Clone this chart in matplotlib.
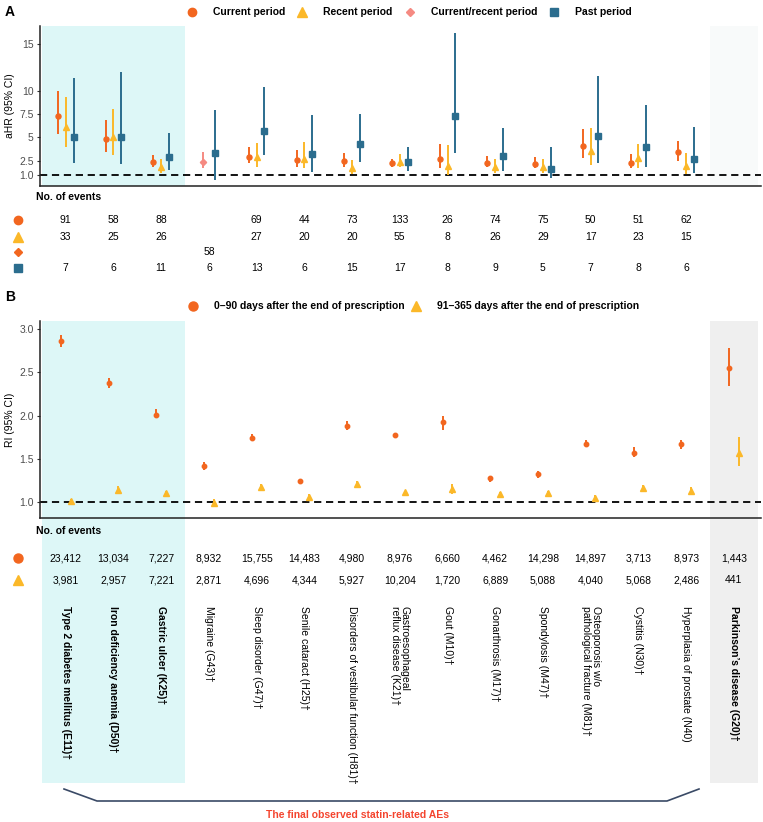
import numpy as np
import matplotlib.pyplot as plt

plt.rcParams['font.family'] = ['Liberation Sans', 'DejaVu Sans']

W, H = 763, 822
nan = np.nan

# outcomes (x categories)
labels = ["Type 2 diabetes mellitus (E11)\u2020", "Iron deficiency anemia (D50)\u2020",
          "Gastric ulcer (K25)\u2020", "Migraine (G43)\u2020", "Sleep disorder (G47)\u2020",
          "Senile cataract (H25)\u2020", "Disorders of vestibular function (H81)\u2020",
          "Gastroesophageal\nreflux disease (K21)\u2020", "Gout (M10)\u2020",
          "Gonarthrosis (M17)\u2020", "Spondylosis (M47)\u2020",
          "Osteoporosis w/o\npathological fracture (M81)\u2020", "Cystitis (N30)\u2020",
          "Hyperplasia of prostate (N40)", "Parkinson\u2019s disease (G20)\u2020"]
bold_labels = [True, True, True] + [False] * 11 + [True]

# panel A - aHR (95% CI)
a_cur = [7.34, 4.83, 2.40, nan, 2.93, 2.55, 2.50, 2.22, 2.65, 2.29, 2.18, 4.08, 2.29, 3.41, nan]
a_cur_lo = [5.34, 3.40, 1.86, nan, 2.22, 1.79, 1.86, 1.79, 1.69, 1.79, 1.69, 2.83, 1.69, 2.50, nan]
a_cur_hi = [9.99, 6.88, 3.12, nan, 4.00, 3.65, 3.30, 2.69, 4.30, 3.04, 2.87, 5.88, 3.19, 4.65, nan]
a_rec = [6.12, 5.08, 1.79, nan, 2.87, 2.69, 1.69, 2.40, 1.93, 1.79, 1.86, 3.55, 2.76, 1.97, nan]
a_rec_lo = [4.00, 3.12, 1.15, nan, 1.86, 1.69, 1.07, 1.79, 0.97, 1.15, 1.21, 2.04, 1.69, 1.07, nan]
a_rec_hi = [9.31, 8.06, 2.65, nan, 4.37, 4.48, 2.58, 3.22, 4.19, 2.69, 2.69, 5.98, 4.30, 3.36, nan]
a_cr = [nan, nan, nan, 2.40] + [nan] * 11
a_cr_lo = [nan, nan, nan, 1.69] + [nan] * 11
a_cr_hi = [nan, nan, nan, 3.41] + [nan] * 11
a_past = [5.08, 5.08, 2.87, 3.36, 5.69, 3.19, 4.27, 2.40, 7.30, 3.01, 1.58, 5.16, 4.00, 2.65, nan]
a_past_lo = [2.29, 2.12, 1.50, 0.43, 3.12, 1.32, 2.40, 1.43, 3.30, 1.43, 0.61, 2.22, 1.86, 1.15, nan]
a_past_hi = [11.35, 12.06, 5.45, 7.95, 10.39, 7.41, 7.49, 3.98, 16.19, 5.98, 3.94, 11.60, 8.49, 6.16, nan]

n_cur = [91, 58, 88, None, 69, 44, 73, 133, 26, 74, 75, 50, 51, 62, None]
n_rec = [33, 25, 26, None, 27, 20, 20, 55, 8, 26, 29, 17, 23, 15, None]
n_cr = [None, None, None, 58] + [None] * 11
n_past = [7, 6, 11, 6, 13, 6, 15, 17, 8, 9, 5, 7, 8, 6, None]

# panel B - RI (95% CI)
b_early = [2.86, 2.38, 2.01, 1.42, 1.74, 1.24, 1.88, 1.77, 1.92, 1.27, 1.32, 1.67, 1.57, 1.67, 2.55]
b_early_lo = [2.80, 2.32, 1.97, 1.37, 1.70, 1.225, 1.83, 1.74, 1.83, 1.23, 1.27, 1.63, 1.52, 1.61, 2.34]
b_early_hi = [2.93, 2.44, 2.07, 1.46, 1.785, 1.255, 1.94, 1.80, 1.99, 1.30, 1.36, 1.72, 1.63, 1.72, 2.78]
b_late = [1.01, 1.14, 1.10, 0.99, 1.17, 1.05, 1.20, 1.11, 1.15, 1.09, 1.10, 1.04, 1.155, 1.13, 1.56]
b_late_lo = [0.99, 1.10, 1.08, 0.96, 1.14, 1.03, 1.16, 1.09, 1.09, 1.07, 1.08, 1.01, 1.11, 1.08, 1.41]
b_late_hi = [1.03, 1.18, 1.12, 1.03, 1.20, 1.09, 1.24, 1.13, 1.20, 1.11, 1.12, 1.08, 1.19, 1.17, 1.75]

n_early = [23412, 13034, 7227, 8932, 15755, 14483, 4980, 8976, 6660, 4462, 14298, 14897, 3713, 8973, 1443]
n_late = [3981, 2957, 7221, 2871, 4696, 4344, 5927, 10204, 1720, 6889, 5088, 4040, 5068, 2486, 441]

ORANGE, YELLOW, PINK, BLUE = '#F2661F', '#FBB829', '#F58A82', '#2B6D8E'
CYAN, GREY = '#DDF7F7', '#EFEFEF'

a_series = [("Current period", a_cur, a_cur_lo, a_cur_hi, ORANGE, 'o', 3.6),
            ("Recent period", a_rec, a_rec_lo, a_rec_hi, YELLOW, '^', 4.6),
            ("Current/recent period", a_cr, a_cr_lo, a_cr_hi, PINK, 'D', 3.2),
            ("Past period", a_past, a_past_lo, a_past_hi, BLUE, 's', 3.8)]
b_series = [("0\u201390 days after the end of prescription", b_early, b_early_lo, b_early_hi, ORANGE, 'o', 3.2),
            ("91\u2013365 days after the end of prescription", b_late, b_late_lo, b_late_hi, YELLOW, '^', 3.8)]

x = np.arange(len(labels))
XLIM = (-0.54, 14.57)


def fr(x0, y0, x1, y1):
    return [x0 / W, 1 - y1 / H, (x1 - x0) / W, (y1 - y0) / H]


def dodge(series, width):
    # ggplot-like position_dodge: only present series share the slot
    offs = []
    for s in series:
        offs.append(np.full(len(x), nan))
    for i in range(len(x)):
        present = [j for j, s in enumerate(series) if not np.isnan(s[1][i])]
        m = len(present)
        for r, j in enumerate(present):
            offs[j][i] = (r - (m - 1) / 2) * width / m
    return offs


def style_axis(ax):
    ax.set_xlim(*XLIM)
    ax.set_xticks([])
    for s in ['top', 'right']:
        ax.spines[s].set_visible(False)
    for s in ['left', 'bottom']:
        ax.spines[s].set_color('#222222')
        ax.spines[s].set_linewidth(1.1)
    ax.tick_params(axis='y', labelsize=7.5, labelcolor='#4D4D4D', color='#333333',
                   length=2.5, width=0.8, pad=2)


fig = plt.figure(figsize=(W / 100, H / 100), dpi=100)

# background bands for panel B (plot + table + labels)
bg = fig.add_axes(fr(40, 320.7, 761, 783))
bg.set_xlim(*XLIM)
bg.set_ylim(0, 1)
bg.axis('off')
bg.axvspan(-0.5, 2.5, color=CYAN, lw=0)
bg.axvspan(13.5, 14.5, color=GREY, lw=0)

# ---- panel A
axA = fig.add_axes(fr(40, 26, 761, 186))
axA.patch.set_alpha(0)
style_axis(axA)
axA.set_ylim(-0.21, 16.97)
axA.axvspan(-0.5, 2.5, color=CYAN, lw=0, zorder=0)
axA.axvspan(13.5, 14.5, color='#F8FAFA', lw=0, zorder=0)
axA.axhline(1, color='black', lw=1.3, ls=(0, (4, 2.6)), zorder=1)
axA.set_yticks([1, 2.5, 5, 7.5, 10, 15])
axA.set_yticklabels(['1.0', '2.5', '5', '7.5', '10', '15'])
axA.set_ylabel('aHR (95% CI)', fontsize=7.5, labelpad=3)
offsA = dodge(a_series, 0.49)
for (name, est, lo, hi, col, mk, ms), off in zip(a_series, offsA):
    est, lo, hi = np.array(est), np.array(lo), np.array(hi)
    xx = x + off
    axA.vlines(xx, lo, hi, color=col, lw=1.4, zorder=2)
    axA.plot(xx, est, ls='none', marker=mk, ms=ms, color=col, mec=col, zorder=3)

# table A
tA = fig.add_axes(fr(40, 186, 761, 290))
tA.set_xlim(*XLIM)
tA.set_ylim(290, 186)
tA.axis('off')
rowsA = [220, 236.7, 251.7, 268]
for cnt, yy in zip([n_cur, n_rec, n_cr, n_past], rowsA):
    for i, c in enumerate(cnt):
        if c is not None:
            tA.text(x[i], yy, f"{c:,}", ha='center', va='center', fontsize=7.5)

# ---- panel B
axB = fig.add_axes(fr(40, 320.7, 761, 518))
axB.patch.set_alpha(0)
style_axis(axB)
axB.set_ylim(0.811, 3.10)
axB.axhline(1, color='black', lw=1.3, ls=(0, (4, 2.6)), zorder=1)
axB.set_yticks([1.0, 1.5, 2.0, 2.5, 3.0])
axB.set_yticklabels(['1.0', '1.5', '2.0', '2.5', '3.0'])
axB.set_ylabel('RI (95% CI)', fontsize=7.5, labelpad=3)
offsB = dodge(b_series, 0.4)
for (name, est, lo, hi, col, mk, ms), off in zip(b_series, offsB):
    est, lo, hi = np.array(est), np.array(lo), np.array(hi)
    xx = x + off
    axB.vlines(xx, lo, hi, color=col, lw=1.4, zorder=2)
    axB.plot(xx, est, ls='none', marker=mk, ms=ms, color=col, mec=col, zorder=3)

# table B + labels
tB = fig.add_axes(fr(40, 518, 761, 790))
tB.set_xlim(*XLIM)
tB.set_ylim(790, 518)
tB.axis('off')
for cnt, yy in zip([n_early, n_late], [558, 580]):
    for i, c in enumerate(cnt):
        tB.text(x[i], yy, f"{c:,}", ha='center', va='center', fontsize=7.5)
for i, lab in enumerate(labels):
    tB.text(x[i], 606, lab, rotation=270, ha='center', va='top', fontsize=7.5,
            multialignment='left', linespacing=1.0,
            fontweight='bold' if bold_labels[i] else 'normal')

# ---- overlay: legends, panel letters, table icons, bracket
ov = fig.add_axes([0, 0, 1, 1])
ov.set_xlim(0, W)
ov.set_ylim(H, 0)
ov.axis('off')
ov.patch.set_alpha(0)

ov.text(5, 12, 'A', fontsize=10, fontweight='bold', va='center')
ov.text(5, 297, 'B', fontsize=10, fontweight='bold', va='center')

legA_x = [191.7, 302, 410, 554]
legA_ms = [6, 7, 4.5, 6]
for (name, _, _, _, col, mk, _), lx, ms in zip(a_series, legA_x, legA_ms):
    ov.plot(lx, 12, marker=mk, ms=ms, color=col, ls='none')
    ov.text(lx + 21, 12, name, fontsize=7.5, fontweight='bold', va='center')

legB_x = [192.7, 416]
for (name, _, _, _, col, mk, _), lx in zip(b_series, legB_x):
    ov.plot(lx, 306, marker=mk, ms=6.5, color=col, ls='none')
    ov.text(lx + 21, 306, name, fontsize=7.5, fontweight='bold', va='center')

ov.text(36, 197, 'No. of events', fontsize=7.5, fontweight='bold', va='center')
ov.text(36, 530.7, 'No. of events', fontsize=7.5, fontweight='bold', va='center')
iconsA = [('o', ORANGE, 6), ('^', YELLOW, 7), ('D', ORANGE, 4), ('s', BLUE, 5.5)]
for (mk, col, ms), yy in zip(iconsA, rowsA):
    ov.plot(18, yy, marker=mk, ms=ms, color=col, ls='none')
for (name, _, _, _, col, mk, _), yy in zip(b_series, [558, 580]):
    ov.plot(18, yy, marker=mk, ms=6.5, color=col, ls='none')

ov.plot([64, 97, 667, 699], [789, 801, 801, 789], color='#3A4A66', lw=1.2)
ov.text(357, 815, 'The final observed statin-related AEs', color='#F4442E',
        fontsize=7.5, fontweight='bold', ha='center', va='center')

fig.savefig('out.png', dpi=100)
